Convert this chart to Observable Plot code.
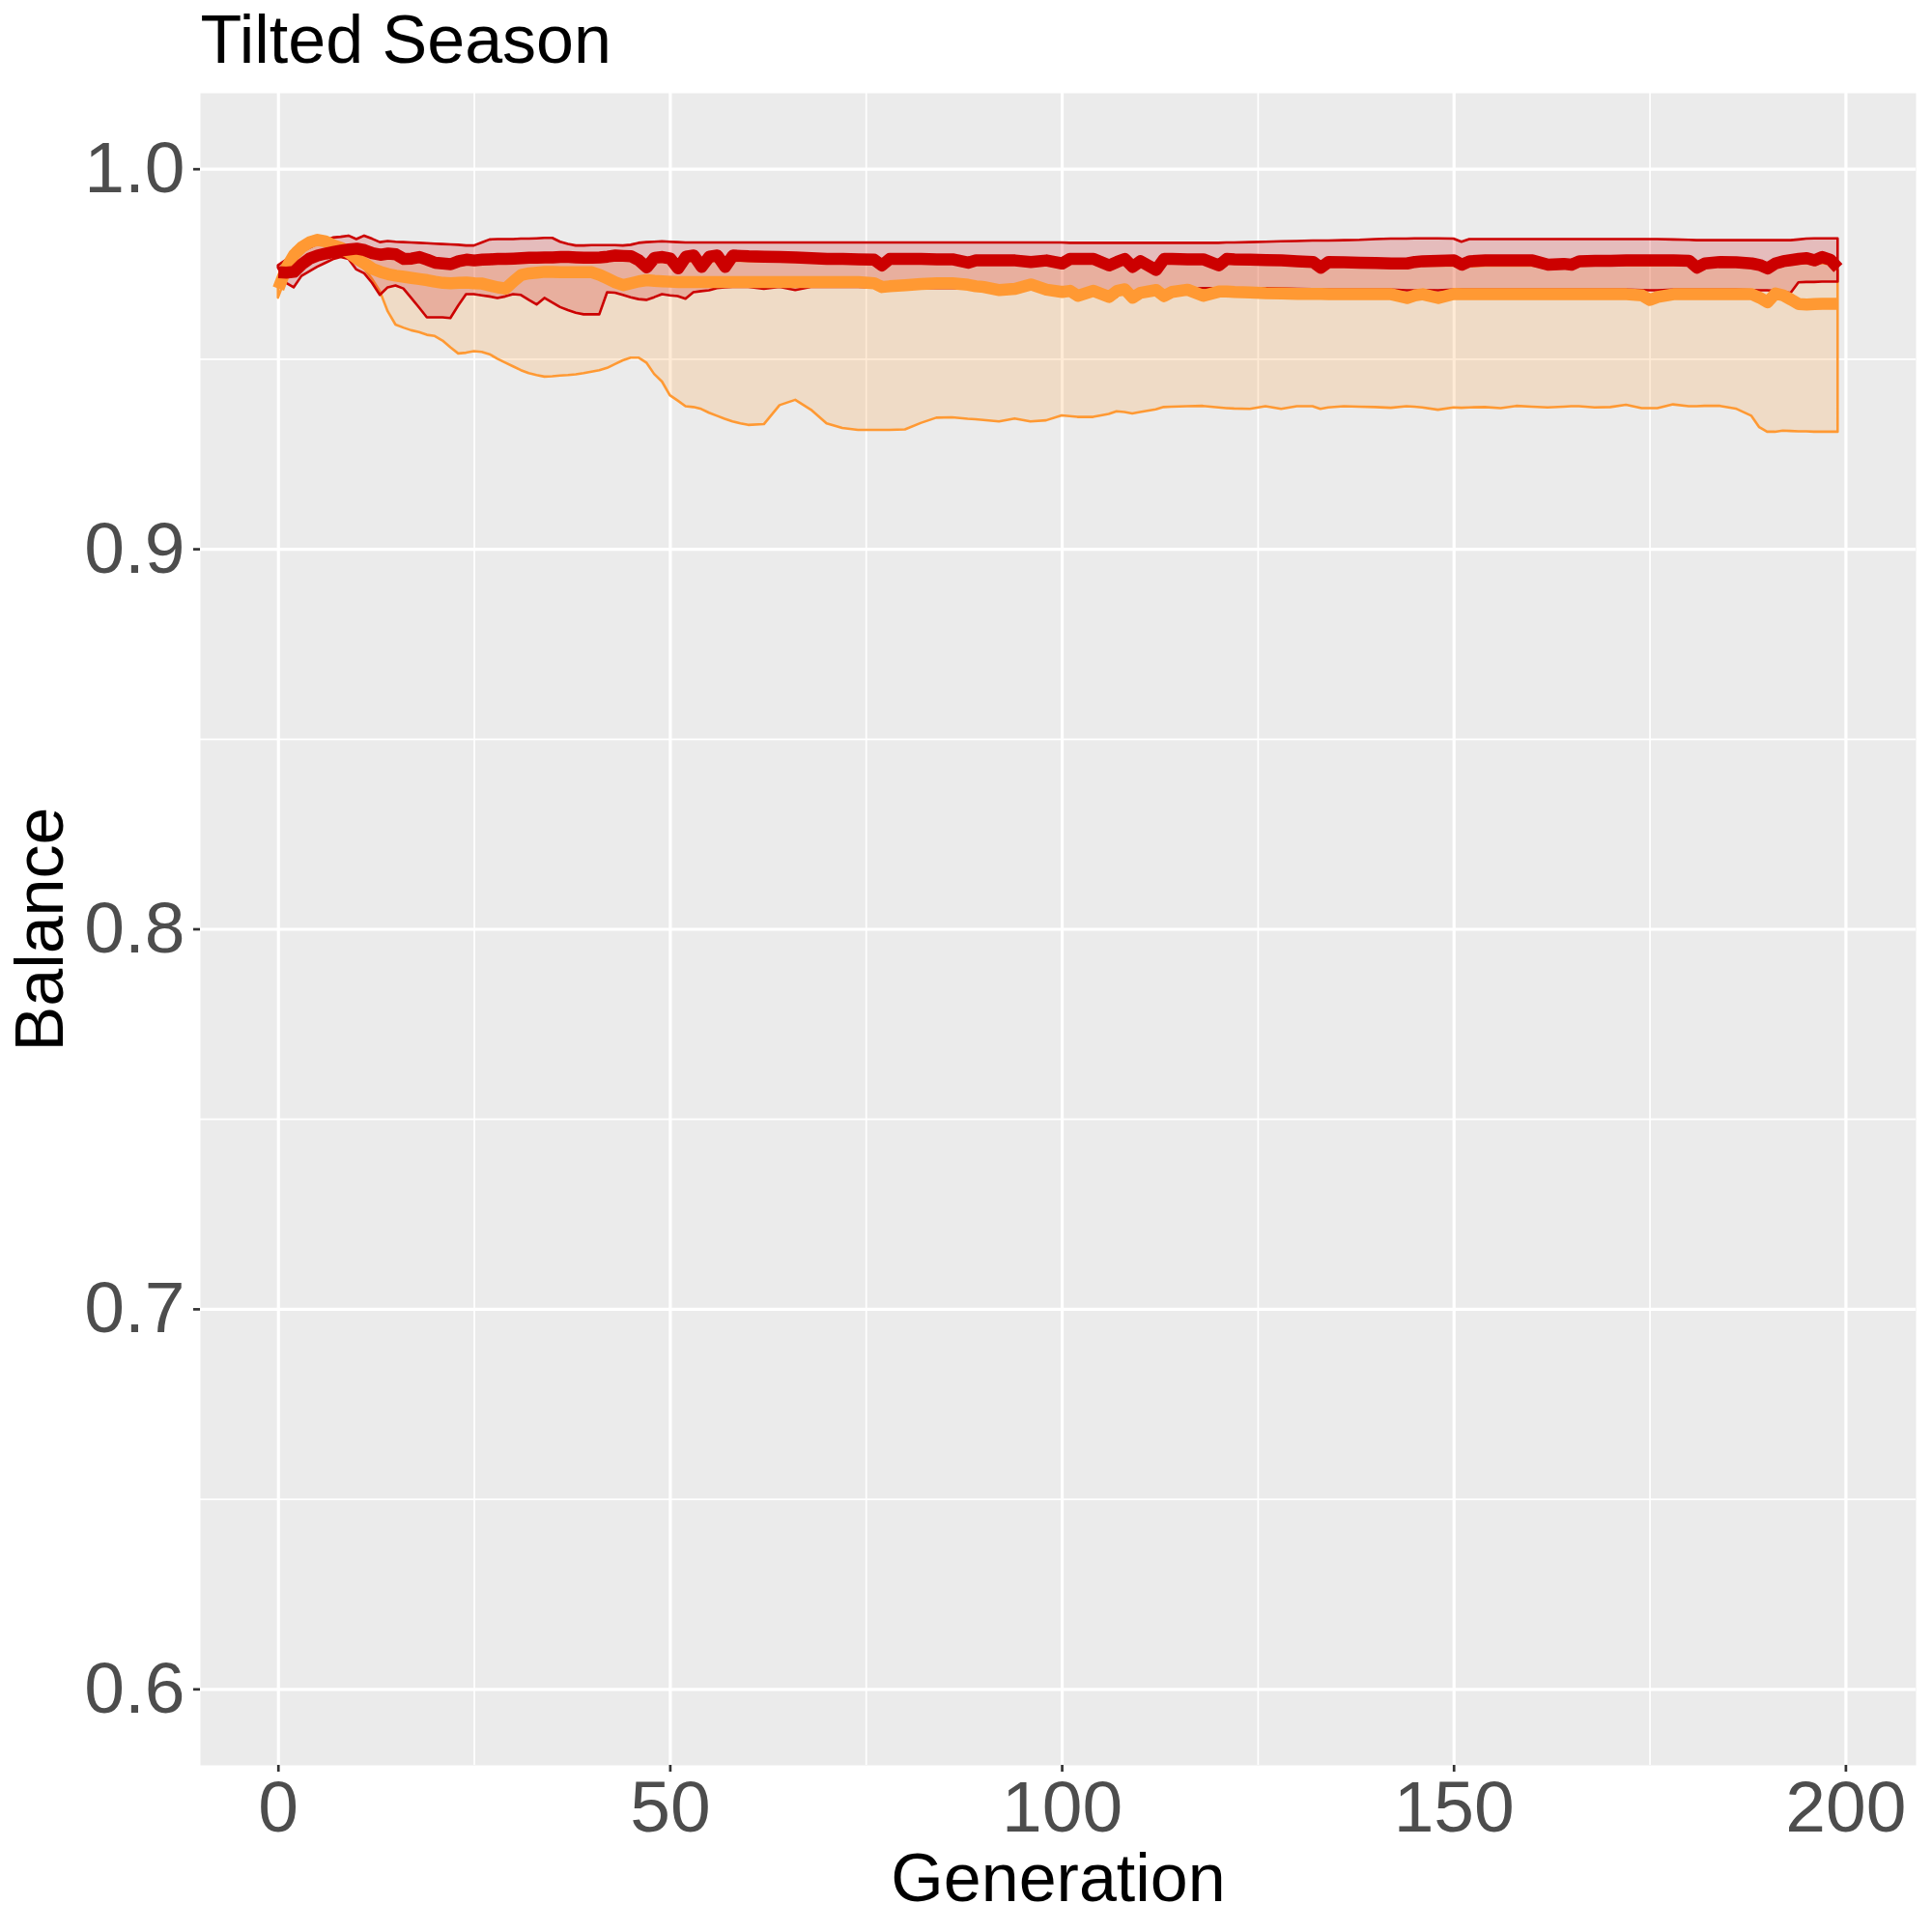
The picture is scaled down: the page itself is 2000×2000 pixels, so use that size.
<!DOCTYPE html>
<html>
<head>
<meta charset="utf-8">
<script src="https://cdn.jsdelivr.net/npm/d3@7"></script>
<script src="https://cdn.jsdelivr.net/npm/@observablehq/plot@0.6"></script>
<style>
  html, body { margin: 0; padding: 0; background: #ffffff; }
  #chart { width: 2000px; height: 2000px; }
</style>
</head>
<body>
<div id="chart"></div>
<script>
// ---- Data ----
const titleText = "Tilted Season";
const xLabel = "Generation";
const yLabel = "Balance";
const xTicks = [0, 50, 100, 150, 200];
const xMinor = [25, 75, 125, 175];
const yTicks = [0.6, 0.7, 0.8, 0.9, 1.0];
const yMinor = [0.65, 0.75, 0.85, 0.95];

const gens = [
  0,1,2,3,4,5,6,7,8,9,
  10,11,12,13,14,15,16,17,18,19,
  20,21,22,23,24,25,26,27,28,29,
  30,31,32,33,34,35,36,37,38,39,
  40,41,42,43,44,45,46,47,48,49,
  50,51,52,53,54,55,56,57,58,59,
  60,
  62,64,66,68,70,72,74,76,77,78,
  80,82,84,86,88,89,90,92,94,96,
  98,100,101,102,104,106,107,108,109,110,
  112,113,114,116,118,120,121,122,124,126,
  128,130,132,133,134,136,138,140,142,144,
  145,146,148,150,151,152,154,156,158,160,
  162,164,165,166,168,170,172,174,175,176,
  178,180,181,182,184,186,188,189,190,191,
  192,193,194,195,196,197,198,199
];

// red series: upper bound, mean, lower bound
const redUpper = [
  0.9746,0.9760,0.9772,0.9783,0.9792,0.9802,0.9812,0.9819,0.9821,0.9824,
  0.9815,0.9824,0.9816,0.9807,0.9810,0.9808,0.9807,0.9806,0.9805,0.9804,
  0.9803,0.9802,0.9801,0.9800,0.9798,0.9798,0.9806,0.9814,0.9815,0.9815,
  0.9815,0.9816,0.9816,0.9817,0.9818,0.9818,0.9808,0.9802,0.9798,0.9798,
  0.9799,0.9799,0.9799,0.9799,0.9798,0.9800,0.9805,0.9807,0.9808,0.9809,
  0.9808,0.9807,0.9806,0.9806,0.9806,0.9806,0.9806,0.9806,0.9806,0.9806,
  0.9806,
  0.9806,0.9806,0.9806,0.9806,0.9806,0.9806,0.9806,0.9806,0.9806,0.9806,
  0.9806,0.9806,0.9806,0.9806,0.9806,0.9806,0.9806,0.9806,0.9806,0.9806,
  0.9806,0.9806,0.9805,0.9805,0.9805,0.9805,0.9805,0.9805,0.9805,0.9805,
  0.9805,0.9805,0.9805,0.9805,0.9805,0.9805,0.9806,0.9806,0.9807,0.9808,
  0.9809,0.9810,0.9811,0.9811,0.9811,0.9812,0.9813,0.9815,0.9816,0.9816,
  0.9817,0.9817,0.9817,0.9816,0.9808,0.9815,0.9815,0.9815,0.9815,0.9815,
  0.9815,0.9815,0.9815,0.9815,0.9815,0.9815,0.9815,0.9815,0.9815,0.9815,
  0.9814,0.9813,0.9812,0.9812,0.9812,0.9812,0.9812,0.9812,0.9812,0.9812,
  0.9812,0.9812,0.9814,0.9816,0.9817,0.9817,0.9817,0.9817
];
const redMean = [
  0.9729,0.9728,0.9730,0.9750,0.9765,0.9773,0.9778,0.9782,0.9786,0.9789,
  0.9791,0.9787,0.9779,0.9775,0.9778,0.9776,0.9764,0.9765,0.9769,0.9762,
  0.9754,0.9752,0.9750,0.9758,0.9762,0.9760,0.9762,0.9763,0.9764,0.9764,
  0.9765,0.9766,0.9767,0.9767,0.9768,0.9768,0.9769,0.9769,0.9768,0.9767,
  0.9767,0.9768,0.9770,0.9773,0.9772,0.9771,0.9760,0.9742,0.9767,0.9769,
  0.9765,0.9739,0.9770,0.9773,0.9743,0.9770,0.9773,0.9743,0.9773,0.9772,
  0.9771,
  0.9770,0.9769,0.9768,0.9766,0.9764,0.9764,0.9763,0.9762,0.9747,0.9764,
  0.9764,0.9764,0.9763,0.9763,0.9754,0.9760,0.9760,0.9760,0.9760,0.9756,
  0.9760,0.9752,0.9764,0.9764,0.9764,0.9747,0.9756,0.9764,0.9743,0.9758,
  0.9735,0.9764,0.9764,0.9763,0.9763,0.9747,0.9764,0.9763,0.9762,0.9761,
  0.9760,0.9758,0.9756,0.9741,0.9756,0.9755,0.9754,0.9753,0.9752,0.9752,
  0.9756,0.9758,0.9759,0.9760,0.9749,0.9758,0.9760,0.9760,0.9760,0.9760,
  0.9749,0.9751,0.9749,0.9758,0.9759,0.9759,0.9760,0.9760,0.9760,0.9760,
  0.9760,0.9759,0.9741,0.9752,0.9756,0.9755,0.9752,0.9748,0.9739,0.9752,
  0.9758,0.9761,0.9764,0.9766,0.9760,0.9769,0.9762,0.9740
];
const redLower = [
  0.9740,0.9700,0.9688,0.9718,0.9730,0.9742,0.9752,0.9762,0.9768,0.9763,
  0.9735,0.9725,0.9700,0.9668,0.9688,0.9693,0.9685,0.9660,0.9635,0.9609,
  0.9609,0.9609,0.9607,0.9640,0.9670,0.9670,0.9667,0.9664,0.9660,0.9664,
  0.9670,0.9668,0.9655,0.9643,0.9660,0.9648,0.9636,0.9628,0.9621,0.9617,
  0.9617,0.9617,0.9675,0.9674,0.9668,0.9662,0.9657,0.9655,0.9662,0.9670,
  0.9667,0.9665,0.9658,0.9675,0.9678,0.9680,0.9686,0.9688,0.9689,0.9689,
  0.9689,
  0.9684,0.9689,0.9681,0.9689,0.9689,0.9689,0.9689,0.9688,0.9687,0.9686,
  0.9686,0.9686,0.9686,0.9686,0.9685,0.9685,0.9684,0.9680,0.9680,0.9684,
  0.9680,0.9676,0.9678,0.9676,0.9678,0.9676,0.9663,0.9680,0.9661,0.9680,
  0.9682,0.9680,0.9680,0.9684,0.9686,0.9686,0.9686,0.9686,0.9686,0.9686,
  0.9685,0.9684,0.9683,0.9682,0.9682,0.9682,0.9682,0.9682,0.9682,0.9680,
  0.9680,0.9681,0.9680,0.9682,0.9682,0.9682,0.9682,0.9682,0.9682,0.9682,
  0.9682,0.9682,0.9682,0.9682,0.9682,0.9682,0.9682,0.9681,0.9680,0.9680,
  0.9682,0.9682,0.9682,0.9682,0.9682,0.9682,0.9681,0.9680,0.9680,0.9679,
  0.9676,0.9673,0.9701,0.9702,0.9702,0.9703,0.9703,0.9703
];

// orange series: upper bound, mean, lower bound
const orangeUpper = [
  0.9700,0.9758,0.9790,0.9806,0.9816,0.9821,0.9818,0.9810,0.9800,0.9790,
  0.9782,0.9778,0.9770,0.9766,0.9768,0.9765,0.9756,0.9757,0.9760,0.9754,
  0.9746,0.9745,0.9743,0.9750,0.9754,0.9752,0.9754,0.9755,0.9755,0.9755,
  0.9756,0.9757,0.9757,0.9757,0.9758,0.9758,0.9758,0.9758,0.9758,0.9757,
  0.9757,0.9757,0.9759,0.9760,0.9760,0.9758,0.9750,0.9735,0.9755,0.9756,
  0.9752,0.9732,0.9756,0.9758,0.9735,0.9756,0.9758,0.9735,0.9758,0.9758,
  0.9757,
  0.9756,0.9756,0.9755,0.9754,0.9752,0.9752,0.9751,0.9750,0.9738,0.9752,
  0.9752,0.9752,0.9751,0.9751,0.9745,0.9748,0.9748,0.9748,0.9748,0.9745,
  0.9748,0.9742,0.9752,0.9752,0.9752,0.9738,0.9745,0.9752,0.9735,0.9746,
  0.9727,0.9752,0.9752,0.9751,0.9751,0.9738,0.9752,0.9751,0.9750,0.9749,
  0.9748,0.9746,0.9745,0.9733,0.9745,0.9744,0.9743,0.9742,0.9741,0.9741,
  0.9744,0.9745,0.9745,0.9745,0.9742,0.9743,0.9745,0.9745,0.9745,0.9745,
  0.9740,0.9742,0.9740,0.9745,0.9746,0.9746,0.9746,0.9746,0.9746,0.9746,
  0.9746,0.9746,0.9733,0.9741,0.9744,0.9744,0.9742,0.9740,0.9733,0.9741,
  0.9745,0.9748,0.9750,0.9752,0.9748,0.9752,0.9748,0.9733
];
const orangeMean = [
  0.9686,0.9740,0.9775,0.9795,0.9808,0.9814,0.9810,0.9800,0.9793,0.9780,
  0.9765,0.9752,0.9738,0.9730,0.9724,0.9720,0.9717,0.9714,0.9711,0.9708,
  0.9704,0.9701,0.9700,0.9701,0.9702,0.9700,0.9699,0.9694,0.9689,0.9686,
  0.9705,0.9722,0.9726,0.9728,0.9730,0.9730,0.9729,0.9729,0.9729,0.9729,
  0.9729,0.9722,0.9712,0.9702,0.9695,0.9700,0.9705,0.9708,0.9706,0.9705,
  0.9704,0.9703,0.9703,0.9703,0.9703,0.9703,0.9703,0.9703,0.9703,0.9703,
  0.9703,
  0.9703,0.9703,0.9703,0.9703,0.9703,0.9703,0.9703,0.9700,0.9690,0.9692,
  0.9695,0.9698,0.9700,0.9700,0.9696,0.9692,0.9690,0.9682,0.9685,0.9697,
  0.9683,0.9677,0.9680,0.9667,0.9680,0.9664,0.9680,0.9684,0.9662,0.9675,
  0.9682,0.9666,0.9677,0.9683,0.9667,0.9678,0.9678,0.9677,0.9676,0.9674,
  0.9673,0.9672,0.9672,0.9672,0.9671,0.9671,0.9671,0.9671,0.9671,0.9661,
  0.9668,0.9671,0.9661,0.9672,0.9671,0.9671,0.9671,0.9671,0.9671,0.9671,
  0.9671,0.9671,0.9671,0.9671,0.9671,0.9671,0.9671,0.9668,0.9656,0.9664,
  0.9671,0.9671,0.9671,0.9671,0.9671,0.9671,0.9671,0.9662,0.9650,0.9673,
  0.9668,0.9657,0.9645,0.9644,0.9645,0.9646,0.9646,0.9646
];
const orangeLower = [
  0.9661,0.9715,0.9750,0.9755,0.9760,0.9765,0.9770,0.9773,0.9770,0.9765,
  0.9750,0.9738,0.9710,0.9678,0.9625,0.9590,0.9582,0.9575,0.9570,0.9563,
  0.9560,0.9548,0.9530,0.9514,0.9516,0.9520,0.9518,0.9512,0.9500,0.9490,
  0.9480,0.9470,0.9462,0.9457,0.9453,0.9454,0.9456,0.9457,0.9459,0.9462,
  0.9466,0.9470,0.9476,0.9486,0.9496,0.9503,0.9503,0.9490,0.9460,0.9440,
  0.9404,0.9390,0.9375,0.9373,0.9368,0.9358,0.9350,0.9342,0.9335,0.9330,
  0.9326,
  0.9328,0.9378,0.9392,0.9366,0.9330,0.9318,0.9313,0.9313,0.9313,0.9313,
  0.9314,0.9331,0.9345,0.9346,0.9342,0.9341,0.9339,0.9335,0.9343,0.9335,
  0.9338,0.9351,0.9349,0.9347,0.9347,0.9355,0.9362,0.9360,0.9356,0.9360,
  0.9367,0.9373,0.9374,0.9375,0.9376,0.9372,0.9370,0.9369,0.9368,0.9375,
  0.9368,0.9375,0.9375,0.9368,0.9372,0.9375,0.9374,0.9373,0.9371,0.9375,
  0.9374,0.9372,0.9366,0.9372,0.9371,0.9372,0.9373,0.9370,0.9376,0.9374,
  0.9372,0.9374,0.9375,0.9375,0.9372,0.9373,0.9379,0.9370,0.9370,0.9370,
  0.9380,0.9375,0.9375,0.9376,0.9376,0.9369,0.9350,0.9320,0.9308,0.9308,
  0.9311,0.9310,0.9309,0.9309,0.9308,0.9308,0.9308,0.9308
];

const redColor = "#CC0000";
const orangeColor = "#FF9933";

// ---- Build table ----
const rows = gens.map((g, i) => ({
  g,
  ru: redUpper[i], rm: redMean[i], rl: redLower[i],
  ou: orangeUpper[i], om: orangeMean[i], ol: orangeLower[i]
}));

const fontFamily = "'Liberation Sans', Helvetica, Arial, sans-serif";

const chart = Plot.plot({
  width: 2000,
  height: 2000,
  marginLeft: 207,
  marginRight: 17,
  marginTop: 96,
  marginBottom: 173,
  style: { fontFamily, background: "#ffffff", overflow: "visible" },
  x: { domain: [-9.95, 208.95] },
  y: { domain: [0.58, 1.02] },
  marks: [
    Plot.frame({ fill: "#EBEBEB", stroke: null }),
    Plot.ruleY(yMinor, { stroke: "#ffffff", strokeWidth: 1.7 }),
    Plot.ruleX(xMinor, { stroke: "#ffffff", strokeWidth: 1.7 }),
    Plot.ruleY(yTicks, { stroke: "#ffffff", strokeWidth: 3.2 }),
    Plot.ruleX(xTicks, { stroke: "#ffffff", strokeWidth: 3.2 }),
    // ribbons
    Plot.areaY(rows, { x: "g", y1: "ol", y2: "ou", fill: orangeColor, fillOpacity: 0.2,
      stroke: orangeColor, strokeWidth: 2.6, strokeLinejoin: "round" }),
    Plot.areaY(rows, { x: "g", y1: "rl", y2: "ru", fill: redColor, fillOpacity: 0.2,
      stroke: redColor, strokeWidth: 2.6, strokeLinejoin: "round" }),
    // mean lines
    Plot.line(rows, { x: "g", y: "om", stroke: orangeColor, strokeWidth: 12.5,
      strokeLinecap: "butt", strokeLinejoin: "round" }),
    Plot.line(rows, { x: "g", y: "rm", stroke: redColor, strokeWidth: 12.5,
      strokeLinecap: "butt", strokeLinejoin: "round" }),
    // axes
    Plot.axisX({ ticks: xTicks, tickSize: 7, tickPadding: 8, fontSize: 75,
      stroke: "#333333", strokeWidth: 2.7, fill: "#4D4D4D", label: null }),
    Plot.axisY({ ticks: yTicks, tickSize: 7, tickPadding: 9, fontSize: 75,
      tickFormat: d3.format(".1f"),
      stroke: "#333333", strokeWidth: 2.7, fill: "#4D4D4D", label: null }),
    // titles
    Plot.text([titleText], { text: d => d, frameAnchor: "top-left", dy: -81,
      lineAnchor: "top", textAnchor: "start", fontSize: 70, fill: "#000000" }),
    Plot.text([xLabel], { text: d => d, frameAnchor: "bottom", dy: 91,
      lineAnchor: "top", textAnchor: "middle", fontSize: 70, fill: "#000000" }),
    Plot.text([yLabel], { text: d => d, frameAnchor: "left", dx: -192, rotate: -90,
      lineAnchor: "top", textAnchor: "middle", fontSize: 70, fill: "#000000" })
  ]
});

document.getElementById("chart").appendChild(chart);
</script>
</body>
</html>
